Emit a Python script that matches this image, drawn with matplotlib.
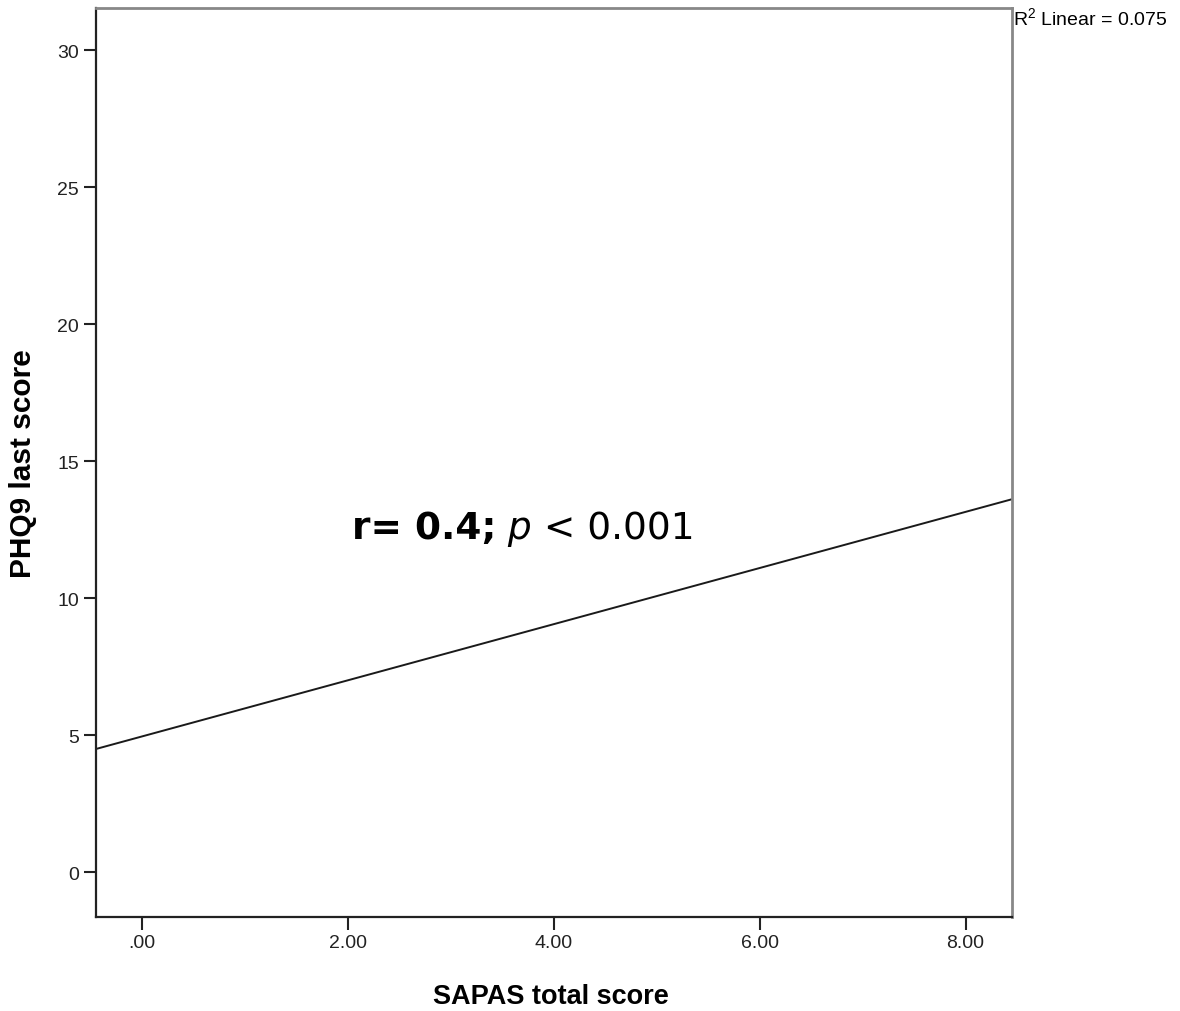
import matplotlib
matplotlib.use("Agg")
import matplotlib.pyplot as plt
from matplotlib.offsetbox import TextArea, HPacker, AnnotationBbox

# data
fit_x = [-0.447, 8.45]
fit_y = [4.49, 13.61]
x_ticks = [0, 2, 4, 6, 8]
x_tick_labels = [".00", "2.00", "4.00", "6.00", "8.00"]
y_ticks = [0, 5, 10, 15, 20, 25, 30]
y_tick_labels = ["0", "5", "10", "15", "20", "25", "30"]
x_lim = [-0.447, 8.45]
y_lim = [-1.64, 31.53]
x_label = "SAPAS total score"
y_label = "PHQ9 last score"
r2_text = "R$^2$ Linear = 0.075"

plt.rcParams['mathtext.fontset'] = 'custom'
plt.rcParams['mathtext.rm'] = 'Liberation Sans'
plt.rcParams['mathtext.it'] = 'Liberation Sans:italic'

fig = plt.figure(figsize=(11.8, 10.12), dpi=100)
ax = fig.add_axes([0.0811, 0.0929, 0.8576 - 0.0811, 0.9908 - 0.0929])

ax.plot(fit_x, fit_y, color="#1a1a1a", lw=1.4, solid_capstyle="butt")
ax.set_xlim(x_lim)
ax.set_ylim(y_lim)
ax.set_xticks(x_ticks)
ax.set_xticklabels(x_tick_labels, fontfamily="Liberation Sans", fontsize=14, color="#222222")
ax.set_yticks(y_ticks)
ax.set_yticklabels(y_tick_labels, fontfamily="Liberation Sans", fontsize=14, color="#222222")
ax.tick_params(axis="both", direction="out", length=9, width=1.5, color="#222222", pad=3)

for s in ["left", "bottom"]:
    ax.spines[s].set_color("#222222")
    ax.spines[s].set_linewidth(1.6)
for s in ["top", "right"]:
    ax.spines[s].set_color("#888888")
    ax.spines[s].set_linewidth(2.0)

ax.set_xlabel(x_label, fontfamily="Liberation Sans", fontweight="bold", fontsize=19.5)
ax.set_ylabel(y_label, fontfamily="Liberation Sans", fontweight="bold", fontsize=21.5)
ax.xaxis.label.set_va("center")
ax.yaxis.label.set_va("center")
ax.xaxis.set_label_coords(0.497, -0.087)
ax.yaxis.set_label_coords(-0.0795, 0.5)

fig.text(0.8585, 0.9925, r2_text, fontfamily="Liberation Sans", fontsize=14,
         ha="left", va="top")

fs = 27
t1 = TextArea("r= 0.4;", textprops=dict(fontfamily="DejaVu Sans", fontweight="bold", fontsize=fs))
t2 = TextArea(" p", textprops=dict(fontfamily="DejaVu Sans", fontstyle="italic", fontsize=fs))
t3 = TextArea(" < 0.001", textprops=dict(fontfamily="DejaVu Sans", fontsize=fs))
box = HPacker(children=[t1, t2, t3], align="baseline", pad=0, sep=0)
ab = AnnotationBbox(box, (2.04, 12.55), xycoords="data", box_alignment=(0, 0.5), frameon=False)
ax.add_artist(ab)

fig.savefig("out.png", dpi=100)
